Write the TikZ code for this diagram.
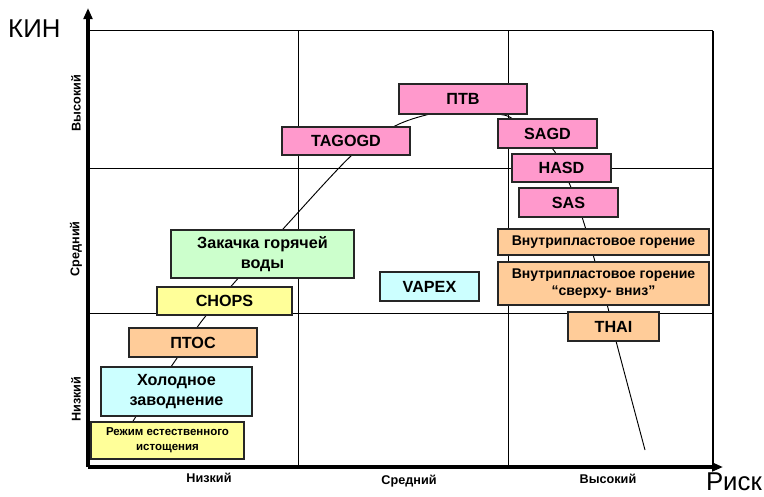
\documentclass[tikz,border=0pt]{standalone}
\usepackage{fontspec}
\setmainfont{Liberation Sans}
\usetikzlibrary{arrows.meta}

\definecolor{pinkfill}{HTML}{FF99CC}
\definecolor{greenfill}{HTML}{CCFFCC}
\definecolor{yellowfill}{HTML}{FFFF99}
\definecolor{orangefill}{HTML}{FFCC99}
\definecolor{cyanfill}{HTML}{CCFFFF}

\begin{document}
\begin{tikzpicture}[
            x=0.03cm, y=-0.03cm,
            box/.style={rectangle, draw=black!85, line width=0.9pt, inner sep=0pt, align=center, font=\bfseries\fontsize{13.8}{16.5}\selectfont},
            pinkbox/.style={box, fill=pinkfill},
            greenbox/.style={box, fill=greenfill},
            yellowbox/.style={box, fill=yellowfill},
            orangebox/.style={box, fill=orangefill},
            cyanbox/.style={box, fill=cyanfill},
            smalltext/.style={font=\bfseries\fontsize{12}{14.5}\selectfont},
            level/.style={font=\bfseries\fontsize{10.8}{12}\selectfont},
            gridline/.style={line width=0.8pt},
            axis/.style={line width=2.8pt, -{Triangle[length=3.3mm, width=2.6mm]}}
        ]
            \useasboundingbox (0,0) rectangle (764,496);

            % frame and grid
            \coordinate (origin) at (88,467);
            \coordinate (ytip) at (88,8);
            \coordinate (xtip) at (723,467);
            \draw[line width=1.2pt] (88,30.5) -- (713,30.5);
            \draw[line width=1.8pt] (713,30.5) -- (713,467);
            \draw[gridline] (88,168) -- (713,168);
            \draw[gridline] (88,313.5) -- (713,313.5);
            \draw[gridline] (298,30.5) -- (298,467);
            \draw[gridline] (508,30.5) -- (508,467);

            % trend curve
            \draw[line width=0.8pt] plot[smooth, tension=0.5] coordinates {
                (128,432) (135,418) (175,361) (201,322) (234,283) (283,229)
                (352,155) (395,126) (430,114) (465,109) (498,114) (513,119)
                (552,148) (570,185) (583,220) (594,258) (608,308) (616,341) (645,450)};

            % methods
            \node[yellowbox, minimum width=4.59cm, minimum height=1.11cm, font=\bfseries\fontsize{9.8}{12.5}\selectfont] (natural) at (167.5,440.5) {Режим естественного\\истощения};
            \node[cyanbox, minimum width=4.53cm, minimum height=1.47cm] (coldflood) at (176.5,391.5) {Холодное\\заводнение};
            \node[orangebox, minimum width=3.84cm, minimum height=0.87cm] (ptos) at (193,342.5) {ПТОС};
            \node[yellowbox, minimum width=4.05cm, minimum height=0.84cm] (chops) at (224.5,301) {CHOPS};
            \node[greenbox, minimum width=5.49cm, minimum height=1.44cm] (hotwater) at (262.5,254) {Закачка горячей\\воды};
            \node[pinkbox, minimum width=3.84cm, minimum height=0.84cm] (tagogd) at (346,141) {TAGOGD};
            \node[pinkbox, minimum width=3.84cm, minimum height=0.9cm] (ptv) at (463,99) {ПТВ};
            \node[cyanbox, minimum width=2.97cm, minimum height=0.87cm] (vapex) at (429.5,286.5) {VAPEX};
            \node[pinkbox, minimum width=2.97cm, minimum height=0.87cm] (sagd) at (547.5,133.5) {SAGD};
            \node[pinkbox, minimum width=2.97cm, minimum height=0.84cm] (hasd) at (561.5,168) {HASD};
            \node[pinkbox, minimum width=2.97cm, minimum height=0.87cm] (sas) at (568.5,202.5) {SAS};
            \node[orangebox, smalltext, minimum width=6.33cm, minimum height=0.78cm] (isc) at (603.5,242) {Внутрипластовое горение};
            \node[orangebox, smalltext, minimum width=6.33cm, minimum height=1.29cm] (isctop) at (603.5,283.5) {Внутрипластовое горение\\“сверху- вниз”};
            \node[orangebox, minimum width=2.73cm, minimum height=0.87cm] (thai) at (613.5,326.5) {THAI};

            % axes
            \draw[axis] (origin) -- (ytip);
            \draw[axis] (origin) -- (xtip);
            \node[anchor=base west, font=\fontsize{22}{24}\selectfont, inner sep=0pt] (kin) at (8,37) {КИН};
            \node[anchor=base east, font=\fontsize{22}{24}\selectfont, inner sep=0pt] (risk) at (762,490) {Риск};

            % levels
            \node[level] (xlow) at (209,478) {Низкий};
            \node[level] (xmid) at (409,481) {Средний};
            \node[level] (xhigh) at (608,479) {Высокий};
            \node[level, rotate=90] (ylow) at (76,399) {Низкий};
            \node[level, rotate=90] (ymid) at (76,249) {Средний};
            \node[level, rotate=90] (yhigh) at (76,103) {Высокий};
        \end{tikzpicture}
\end{document}
